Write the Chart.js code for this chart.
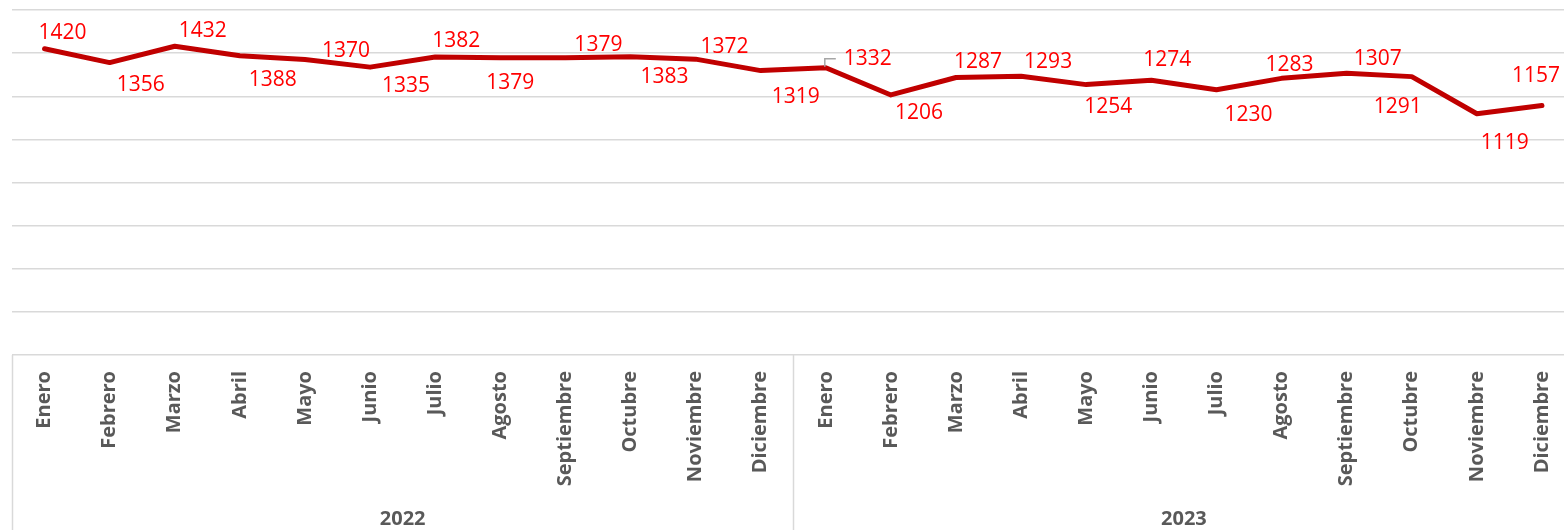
<!DOCTYPE html>
<html>
<head>
<meta charset="utf-8">
<script src="https://cdn.jsdelivr.net/npm/chart.js@4.4.1/dist/chart.umd.min.js"></script>
<style>
  html, body { margin: 0; padding: 0; background: #fff; overflow: hidden; }
  #wrap { width: 1582px; height: 530px; }
</style>
</head>
<body>
<div id="wrap"><canvas id="chart" width="1582" height="530"></canvas></div>
<script>
// ========== Data ==========
const months = ['Enero', 'Febrero', 'Marzo', 'Abril', 'Mayo', 'Junio', 'Julio', 'Agosto',
  'Septiembre', 'Octubre', 'Noviembre', 'Diciembre'];
const years = ['2022', '2023'];
const categories = years.flatMap(() => months);
const values = [1420, 1356, 1432, 1388, 1370, 1335, 1382, 1379, 1379, 1383, 1372, 1319,
  1332, 1206, 1287, 1293, 1254, 1274, 1230, 1283, 1307, 1291, 1119, 1157];
const yTicks = [0, 200, 400, 600, 800, 1000, 1200, 1400, 1600];

// label nudges relative to each point [dx, dy] (manual placement like in the original)
const labelShift = [
  [18, -16], [31, 22], [28, -15], [33, 24], [41, -9], [36, 19], [21, -16], [10, 25],
  [33, -13], [34, 20], [29, -12], [35, 26], [42, -9], [28, 18], [22, -15], [27, -14],
  [22, 22], [16, -20], [32, 25], [8, -13], [31, -14], [-14, 30], [28, 29], [-6, -30]
];
const leaderIdx = 12;

const gridColor = '#D9D9D9';

// ========== Plugins ==========
const valueLabels = {
  id: 'valueLabels',
  afterDatasetsDraw(chart) {
    const ctx = chart.ctx;
    const meta = chart.getDatasetMeta(0);
    ctx.save();
    ctx.font = '21px "Open Sans"';
    ctx.fillStyle = '#FF0000';
    ctx.textAlign = 'center';
    ctx.textBaseline = 'middle';
    meta.data.forEach((pt, i) => {
      const [dx, dy] = labelShift[i];
      ctx.fillText(String(values[i]), pt.x + dx, pt.y + dy);
    });
    // small leader line for the label that was dragged away
    const p = meta.data[leaderIdx];
    ctx.strokeStyle = '#A6A6A6';
    ctx.lineWidth = 1.5;
    ctx.beginPath();
    ctx.moveTo(p.x - 1, p.y - 1);
    ctx.lineTo(p.x - 1, p.y - 9);
    ctx.lineTo(p.x + 10, p.y - 9);
    ctx.stroke();
    ctx.restore();
  }
};

const axisBox = {
  id: 'axisBox',
  afterDraw(chart) {
    const ctx = chart.ctx;
    const x = chart.scales.x;
    const top = chart.chartArea.bottom;
    const bottom = chart.height;
    const mid = (x.getPixelForValue(months.length - 1) + x.getPixelForValue(months.length)) / 2;
    ctx.save();
    ctx.strokeStyle = gridColor;
    ctx.lineWidth = 1.5;
    [x.left, mid, x.right].forEach(px => {
      ctx.beginPath();
      ctx.moveTo(Math.round(px) + 0.5, top);
      ctx.lineTo(Math.round(px) + 0.5, bottom);
      ctx.stroke();
    });
    ctx.restore();
  }
};

// ========== Chart ==========
const ctx = document.getElementById('chart').getContext('2d');
new Chart(ctx, {
  type: 'line',
  data: {
    labels: categories,
    datasets: [{
      data: values,
      borderColor: '#C00000',
      borderWidth: 5,
      borderCapStyle: 'round',
      borderJoinStyle: 'round',
      pointRadius: 0,
      tension: 0,
      fill: false
    }]
  },
  options: {
    responsive: false,
    animation: false,
    layout: { padding: { left: 12, right: 2, top: 10, bottom: 0 } },
    plugins: {
      legend: { display: false },
      tooltip: { enabled: false }
    },
    scales: {
      y: {
        min: 0,
        max: 1600,
        afterBuildTicks: s => { s.ticks = yTicks.map(v => ({ value: v })); },
        afterFit: s => { s.width = 0; },
        ticks: { display: false },
        border: { display: false },
        grid: { color: gridColor, lineWidth: 1.5, drawTicks: false }
      },
      x: {
        offset: true,
        afterFit: s => { s.height = 150; },
        border: { display: false },
        grid: { display: false, drawTicks: false },
        ticks: {
          autoSkip: false,
          minRotation: 90,
          maxRotation: 90,
          padding: 16,
          color: '#595959',
          font: { family: 'Open Sans', size: 20, weight: 'bold' }
        }
      },
      year: {
        type: 'category',
        labels: years,
        position: 'bottom',
        offset: true,
        afterFit: s => { s.height = 25; },
        border: { display: false },
        grid: { display: false, drawTicks: false },
        ticks: {
          padding: 2,
          color: '#595959',
          font: { family: 'Open Sans', size: 20, weight: 'bold' }
        }
      }
    }
  },
  plugins: [valueLabels, axisBox]
});
</script>
</body>
</html>
